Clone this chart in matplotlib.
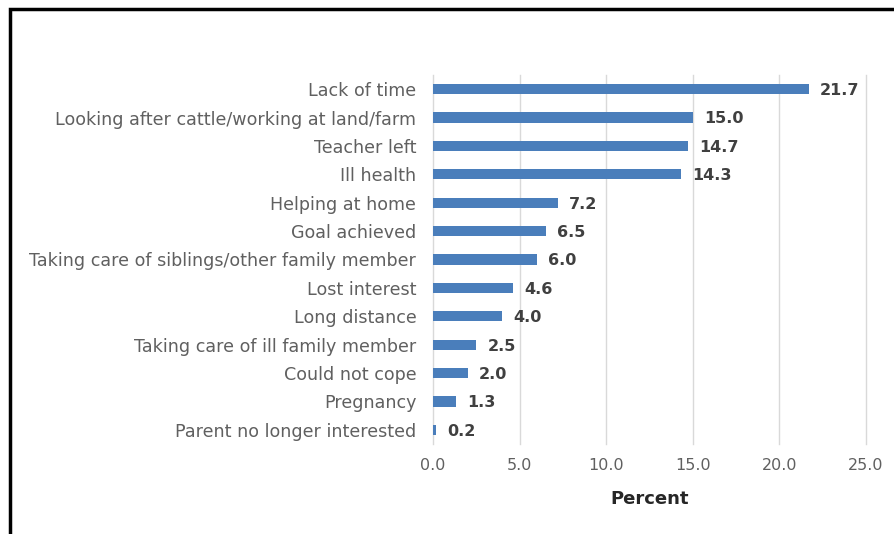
import matplotlib
matplotlib.use("Agg")
import matplotlib.pyplot as plt
from matplotlib.patches import Rectangle

categories = [
    "Lack of time",
    "Looking after cattle/working at land/farm",
    "Teacher left",
    "Ill health",
    "Helping at home",
    "Goal achieved",
    "Taking care of siblings/other family member",
    "Lost interest",
    "Long distance",
    "Taking care of ill family member",
    "Could not cope",
    "Pregnancy",
    "Parent no longer interested",
]
values = [21.7, 15.0, 14.7, 14.3, 7.2, 6.5, 6.0, 4.6, 4.0, 2.5, 2.0, 1.3, 0.2]
xticks = [0.0, 5.0, 10.0, 15.0, 20.0, 25.0]

plt.rcParams["font.family"] = ["DejaVu Sans"]

W, H = 894, 534
fig = plt.figure(figsize=(W / 100, H / 100), dpi=100)
ax = fig.add_axes([433 / W, 1 - 444 / H, (866 - 433) / W, (444 - 75) / H])

ypos = list(range(len(categories)))
ax.barh(ypos, values, height=0.36, color="#4a7ebb", zorder=3)
ax.set_ylim(len(categories) - 0.5, -0.5)
ax.set_xlim(0, 25)
ax.set_yticks(ypos)
ax.set_yticklabels(categories, fontsize=12.6, color="#606060")
ax.set_xticks(xticks)
ax.set_xticklabels([f"{t:.1f}" for t in xticks], fontsize=11.5, color="#606060")
ax.tick_params(axis="both", length=0)
ax.tick_params(axis="y", pad=12)
ax.tick_params(axis="x", pad=10)
ax.grid(axis="x", color="#d9d9d9", linewidth=1, zorder=0)
for gl in ax.get_xgridlines():
    gl.set_clip_on(False)
for s in ax.spines.values():
    s.set_visible(False)
ax.set_xlabel("Percent", fontsize=13, fontweight="bold", color="#262626", labelpad=12)

for y, v in zip(ypos, values):
    ax.text(v + 0.65, y + 0.05, f"{v:.1f}", va="center", ha="left",
            fontsize=11.5, fontweight="bold", color="#404040")

# outer frame
fig.add_artist(Rectangle((10 / W, -0.1), 1.2, 1 - 9 / H + 0.1,
                         transform=fig.transFigure, fill=False,
                         edgecolor="black", linewidth=2.5))

fig.savefig("out.png", dpi=100)
